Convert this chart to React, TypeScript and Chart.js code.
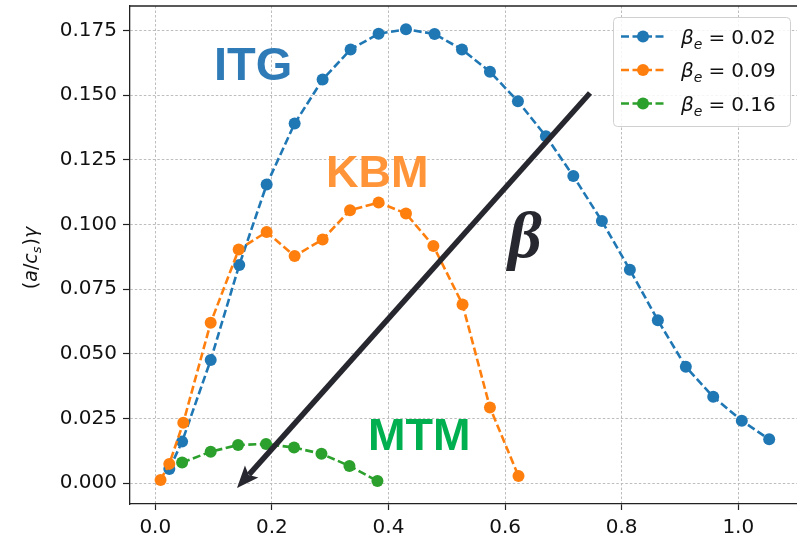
import React, { useEffect, useRef } from "react";
import { Chart, registerables } from "chart.js";

Chart.register(...registerables);

// Growth rate vs. wavenumber for three electron beta values
const itgX = [0.024, 0.046, 0.095, 0.144, 0.191, 0.239, 0.287, 0.335, 0.383, 0.430, 0.479, 0.526, 0.574, 0.622, 0.670, 0.717, 0.766, 0.814, 0.862, 0.910, 0.957, 1.006, 1.053];
const itgY = [0.0055, 0.0161, 0.0476, 0.0843, 0.1154, 0.139, 0.156, 0.1676, 0.1737, 0.1754, 0.1736, 0.1676, 0.159, 0.1476, 0.1341, 0.1187, 0.1013, 0.0825, 0.063, 0.045, 0.0334, 0.0242, 0.017];

const kbmX = [0.009, 0.024, 0.048, 0.095, 0.143, 0.191, 0.239, 0.287, 0.334, 0.383, 0.430, 0.477, 0.527, 0.574, 0.623];
const kbmY = [0.0013, 0.0075, 0.0234, 0.062, 0.0903, 0.0971, 0.0878, 0.0942, 0.1055, 0.1085, 0.1042, 0.0917, 0.0691, 0.0293, 0.0028];

const mtmX = [0.046, 0.095, 0.142, 0.190, 0.238, 0.285, 0.333, 0.381];
const mtmY = [0.008, 0.0122, 0.0148, 0.0152, 0.0138, 0.0114, 0.0067, 0.0009];

const betaLabels = ["0.02", "0.09", "0.16"];
const seriesColors = ["#1f77b4", "#ff7f0e", "#2ca02c"];

const xTicks = [0.0, 0.2, 0.4, 0.6, 0.8, 1.0];
const yTicks = [0.0, 0.025, 0.05, 0.075, 0.1, 0.125, 0.15, 0.175];

const toPoints = (xs: number[], ys: number[]) => xs.map((x, i) => ({ x, y: ys[i] }));

type Run = { text: string; font: string; dy?: number; gap?: number };

function drawRuns(ctx: CanvasRenderingContext2D, runs: Run[], x: number, y: number) {
  let cx = x;
  for (const r of runs) {
    cx += r.gap || 0;
    ctx.font = r.font;
    ctx.fillText(r.text, cx, y + (r.dy || 0));
    cx += ctx.measureText(r.text).width;
  }
  return cx;
}

function runsWidth(ctx: CanvasRenderingContext2D, runs: Run[]) {
  let w = 0;
  for (const r of runs) {
    ctx.font = r.font;
    w += (r.gap || 0) + ctx.measureText(r.text).width;
  }
  return w;
}

const decorations = {
  id: "decorations",
  afterDraw(chart: any) {
    const ctx: CanvasRenderingContext2D = chart.ctx;
    const area = chart.chartArea;

    // top spine
    ctx.save();
    ctx.strokeStyle = "#222";
    ctx.lineWidth = 1.3;
    ctx.beginPath();
    ctx.moveTo(area.left, area.top);
    ctx.lineTo(area.right, area.top);
    ctx.stroke();
    ctx.restore();

    // y-axis title (a/c_s)γ
    ctx.save();
    ctx.fillStyle = "#111";
    ctx.textBaseline = "alphabetic";
    const f = "19px 'DejaVu Sans'";
    const fi = "oblique 19px 'DejaVu Sans'";
    const fs = "oblique 13px 'DejaVu Sans'";
    const title: Run[] = [
      { text: "(", font: f },
      { text: "a", font: fi },
      { text: "/", font: f },
      { text: "c", font: fi },
      { text: "s", font: fs, dy: 4 },
      { text: ")", font: f, gap: 1 },
      { text: "γ", font: fi },
    ];
    const tw = runsWidth(ctx, title);
    const cy = (area.top + area.bottom) / 2 + 3;
    ctx.translate(37, cy);
    ctx.rotate(-Math.PI / 2);
    drawRuns(ctx, title, -tw / 2, 0);
    ctx.restore();

    // regime labels
    ctx.save();
    ctx.textBaseline = "alphabetic";
    ctx.font = "bold 47px 'Liberation Sans'";
    ctx.fillStyle = "#2e7bb8";
    ctx.fillText("ITG", 214, 80);
    ctx.font = "bold 45px 'Liberation Sans'";
    ctx.fillStyle = "#ff9538";
    ctx.fillText("KBM", 326, 187);
    ctx.fillStyle = "#00b050";
    ctx.fillText("MTM", 368, 450);
    ctx.restore();

    // beta arrow
    ctx.save();
    const sx = 590, sy = 93, tx = 237, ty = 488;
    const dx = sx - tx, dy = sy - ty;
    const len = Math.hypot(dx, dy);
    const ux = dx / len, uy = dy / len;
    const headLen = 22, headHalf = 9;
    const bx = tx + ux * headLen, by = ty + uy * headLen;
    ctx.strokeStyle = "#27272f";
    ctx.fillStyle = "#27272f";
    ctx.lineWidth = 5.5;
    ctx.beginPath();
    ctx.moveTo(sx, sy);
    ctx.lineTo(bx - ux * 4, by - uy * 4);
    ctx.stroke();
    ctx.beginPath();
    ctx.moveTo(tx, ty);
    ctx.lineTo(bx - uy * headHalf, by + ux * headHalf);
    ctx.lineTo(tx + ux * headLen * 0.8, ty + uy * headLen * 0.8);
    ctx.lineTo(bx + uy * headHalf, by - ux * headHalf);
    ctx.closePath();
    ctx.fill();
    ctx.font = "bold italic 66px 'Liberation Serif'";
    ctx.textBaseline = "alphabetic";
    ctx.fillText("β", 508, 257);
    ctx.restore();

    // legend
    ctx.save();
    const lx = 613, ly = 17, lw = 177, lh = 109;
    ctx.fillStyle = "rgba(255,255,255,0.85)";
    ctx.strokeStyle = "#d0d0d0";
    ctx.lineWidth = 1;
    ctx.beginPath();
    (ctx as any).roundRect(lx + 0.5, ly + 0.5, lw, lh, 4);
    ctx.fill();
    ctx.stroke();
    const rowY = [36.5, 70, 103.5];
    chart.data.datasets.forEach((_ds: any, i: number) => {
      const y = rowY[i];
      ctx.strokeStyle = seriesColors[i];
      ctx.lineWidth = 2.5;
      ctx.setLineDash([8, 3.5]);
      ctx.beginPath();
      ctx.moveTo(621, y);
      ctx.lineTo(665, y);
      ctx.stroke();
      ctx.setLineDash([]);
      ctx.fillStyle = seriesColors[i];
      ctx.beginPath();
      ctx.arc(643, y, 6, 0, Math.PI * 2);
      ctx.fill();
      ctx.fillStyle = "#111";
      ctx.textBaseline = "alphabetic";
      const base = y + 7;
      drawRuns(ctx, [
        { text: "β", font: "oblique 20px 'DejaVu Sans'" },
        { text: "e", font: "oblique 14px 'DejaVu Sans'", dy: 5 },
        { text: "=", font: "20px 'DejaVu Sans'", gap: 6 },
        { text: betaLabels[i], font: "20px 'DejaVu Sans'", gap: 6 },
      ], 681, base);
    });
    ctx.restore();
  },
};

function makeDataset(label: string, xs: number[], ys: number[], color: string, order: number) {
  return {
    label,
    data: toPoints(xs, ys),
    borderColor: color,
    backgroundColor: color,
    borderWidth: 2.6,
    borderDash: [8, 3.5],
    pointRadius: 6,
    pointBorderWidth: 0,
    pointBackgroundColor: color,
    tension: 0,
    fill: false,
    order,
  };
}

export default function App() {
  const canvasRef = useRef<HTMLCanvasElement | null>(null);

  useEffect(() => {
    if (!canvasRef.current) return;
    const tickFont = { family: "'DejaVu Sans'", size: 20 };
    const gridOpts = (tickLength: number) => ({
      color: "#bdbdbd",
      lineWidth: 1,
      drawTicks: true,
      tickLength,
      tickColor: "#222",
      tickWidth: 1.2,
      tickBorderDash: [],
    });
    const chart = new Chart(canvasRef.current, {
      type: "line",
      data: {
        datasets: [
          makeDataset("β_e = " + betaLabels[0], itgX, itgY, seriesColors[0], 2),
          makeDataset("β_e = " + betaLabels[1], kbmX, kbmY, seriesColors[1], 1),
          makeDataset("β_e = " + betaLabels[2], mtmX, mtmY, seriesColors[2], 0),
        ],
      },
      options: {
        responsive: false,
        animation: false,
        devicePixelRatio: 1,
        layout: { autoPadding: false, padding: { top: 6, right: 0, left: 0, bottom: 0 } },
        plugins: { legend: { display: false }, tooltip: { enabled: false } },
        scales: {
          x: {
            type: "linear",
            min: -0.0434,
            max: 1.1007,
            afterBuildTicks: (s: any) => {
              s.ticks = xTicks.map((v) => ({ value: v }));
            },
            afterFit: (s: any) => {
              s.height = 37;
              s.paddingLeft = 0;
              s.paddingRight = 0;
            },
            grid: gridOpts(6),
            border: { display: true, color: "#222", width: 1.3, dash: [2.5, 2] },
            ticks: {
              font: tickFont,
              color: "#111",
              padding: 6,
              maxRotation: 0,
              callback: (v: any) => Number(v).toFixed(1),
            },
          },
          y: {
            type: "linear",
            min: -0.008,
            max: 0.1844,
            afterBuildTicks: (s: any) => {
              s.ticks = yTicks.map((v) => ({ value: v }));
            },
            afterFit: (s: any) => {
              s.width = 130;
              s.paddingTop = 0;
              s.paddingBottom = 0;
            },
            grid: gridOpts(7),
            border: { display: true, color: "#222", width: 1.3, dash: [2.5, 2] },
            ticks: {
              font: tickFont,
              color: "#111",
              padding: 6,
              callback: (v: any) => Number(v).toFixed(3),
            },
          },
        },
      } as any,
      plugins: [decorations],
    });
    return () => chart.destroy();
  }, []);

  return (
    <div style={{ position: "fixed", left: 0, top: 0, width: 797, height: 541, background: "#fff" }}>
      <canvas ref={canvasRef} width={797} height={541} />
    </div>
  );
}
